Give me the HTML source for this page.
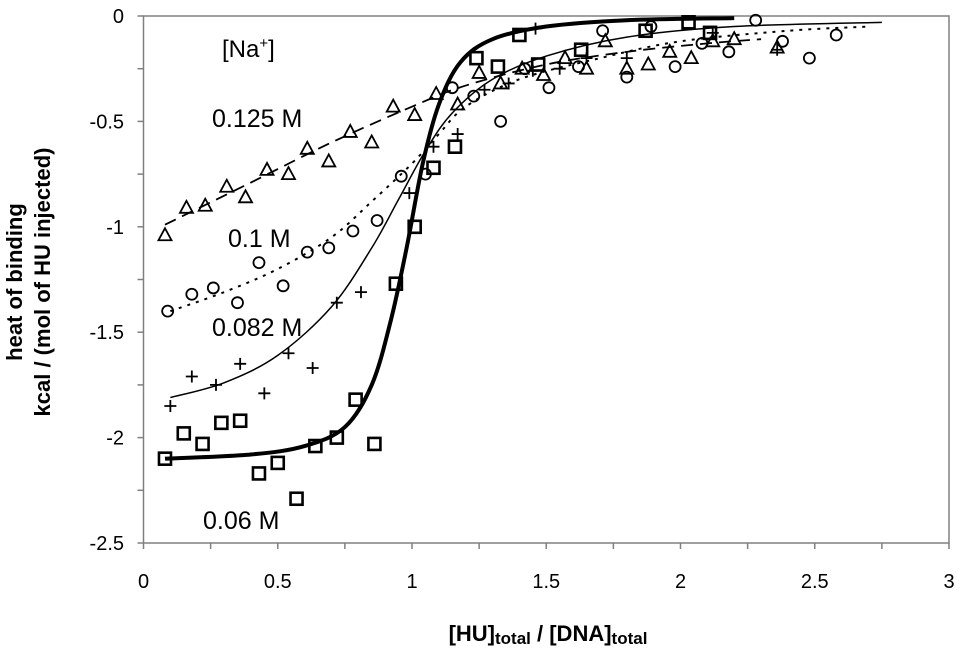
<!DOCTYPE html>
<html><head><meta charset="utf-8"><style>
body{margin:0;background:#fff;}
svg{display:block;font-family:"Liberation Sans",Arial,sans-serif;}
</style></head><body>
<svg id="chart" width="963" height="657"></svg>
<script>
const xTicks=[0,0.5,1,1.5,2,2.5,3];
const yTicks=[0,-0.5,-1,-1.5,-2,-2.5];
const sqPts=[[0.08,-2.1],[0.15,-1.98],[0.22,-2.03],[0.29,-1.93],[0.36,-1.92],[0.43,-2.17],[0.50,-2.12],[0.57,-2.29],[0.64,-2.04],[0.72,-2.0],[0.79,-1.82],[0.86,-2.03],[0.94,-1.27],[1.01,-1.0],[1.08,-0.72],[1.16,-0.62],[1.24,-0.2],[1.32,-0.24],[1.40,-0.09],[1.47,-0.23],[1.63,-0.16],[1.87,-0.07],[2.03,-0.03],[2.11,-0.08]];
const plusPts=[[0.1,-1.85],[0.18,-1.71],[0.27,-1.75],[0.36,-1.65],[0.45,-1.79],[0.54,-1.6],[0.63,-1.67],[0.72,-1.36],[0.81,-1.31],[0.99,-0.84],[1.08,-0.62],[1.17,-0.56],[1.27,-0.35],[1.36,-0.32],[1.45,-0.26],[1.46,-0.06],[1.55,-0.25],[1.65,-0.2],[1.8,-0.2],[2.12,-0.08],[2.36,-0.16]];
const circPts=[[0.09,-1.4],[0.18,-1.32],[0.26,-1.29],[0.35,-1.36],[0.43,-1.17],[0.52,-1.28],[0.61,-1.12],[0.69,-1.1],[0.78,-1.02],[0.87,-0.97],[0.96,-0.76],[1.05,-0.75],[1.15,-0.34],[1.23,-0.38],[1.33,-0.5],[1.42,-0.25],[1.51,-0.34],[1.62,-0.24],[1.71,-0.07],[1.8,-0.29],[1.89,-0.05],[1.98,-0.24],[2.08,-0.13],[2.18,-0.17],[2.28,-0.02],[2.38,-0.12],[2.48,-0.2],[2.58,-0.09]];
const triPts=[[0.08,-1.04],[0.16,-0.91],[0.23,-0.9],[0.31,-0.81],[0.38,-0.86],[0.46,-0.73],[0.54,-0.75],[0.61,-0.63],[0.69,-0.69],[0.77,-0.55],[0.85,-0.6],[0.93,-0.43],[1.01,-0.47],[1.09,-0.37],[1.17,-0.42],[1.25,-0.27],[1.33,-0.32],[1.41,-0.25],[1.49,-0.28],[1.57,-0.2],[1.65,-0.25],[1.72,-0.12],[1.8,-0.25],[1.88,-0.23],[1.96,-0.17],[2.04,-0.2],[2.12,-0.12],[2.2,-0.11],[2.36,-0.15]];
const fit006=[[0.08,-2.1],[0.4,-2.08],[0.6,-2.04],[0.75,-1.95],[0.85,-1.75],[0.92,-1.45],[0.98,-1.1],[1.04,-0.7],[1.1,-0.42],[1.18,-0.22],[1.3,-0.11],[1.5,-0.05],[1.8,-0.02],[2.2,-0.01]];
const fit0082=[[0.1,-1.81],[0.3,-1.74],[0.5,-1.61],[0.7,-1.38],[0.85,-1.1],[0.95,-0.87],[1.05,-0.64],[1.15,-0.46],[1.3,-0.3],[1.5,-0.19],[1.8,-0.1],[2.2,-0.05],[2.75,-0.03]];
const fit01=[[0.1,-1.4],[0.3,-1.31],[0.5,-1.2],[0.7,-1.05],[0.85,-0.88],[1.0,-0.7],[1.1,-0.56],[1.2,-0.43],[1.4,-0.3],[1.7,-0.2],[2.0,-0.12],[2.4,-0.07],[2.7,-0.05]];
const fit0125=[[0.08,-0.99],[0.4,-0.79],[0.7,-0.6],[1.0,-0.43],[1.2,-0.33],[1.5,-0.23],[1.8,-0.17],[2.1,-0.13],[2.3,-0.11]];

const NS='http://www.w3.org/2000/svg';
const svg=document.getElementById('chart');
const X0=143.5,X1=949,Y0=16,Y1=543;
const sx=v=>X0+v/3*(X1-X0);
const sy=v=>Y0+(-v)/2.5*(Y1-Y0);
function mk(t,a,p){const e=document.createElementNS(NS,t);for(const k in a)e.setAttribute(k,a[k]);(p||svg).appendChild(e);return e;}

const frame=mk('rect',{x:X0,y:Y0,width:X1-X0,height:Y1-Y0,fill:'none',stroke:'#808080','stroke-width':1.5});


for(let i=0;i<=12;i++){const v=i*0.25;const t=mk('line',{x1:sx(v),x2:sx(v),y1:Y1,y2:Y1+6,stroke:'#808080','stroke-width':1.5});

}
for(let i=0;i<=10;i++){const v=-i*0.25;const t=mk('line',{x1:X0-6,x2:X0,y1:sy(v),y2:sy(v),stroke:'#808080','stroke-width':1.5});

}
xTicks.forEach(v=>{const t=mk('text',{x:sx(v),y:588,'text-anchor':'middle','font-size':20});t.textContent=String(v);

});
yTicks.forEach(v=>{const t=mk('text',{x:124,y:sy(v)+7,'text-anchor':'end','font-size':20});t.textContent=String(v);

});

function curve(pts,attrs,name){
  const P=pts.map(p=>[sx(p[0]),sy(p[1])]);
  let d='M'+P[0][0]+','+P[0][1];
  for(let i=0;i<P.length-1;i++){
    const p0=P[Math.max(0,i-1)],p1=P[i],p2=P[i+1],p3=P[Math.min(P.length-1,i+2)];
    const c1=[p1[0]+(p2[0]-p0[0])/6,p1[1]+(p2[1]-p0[1])/6];
    const c2=[p2[0]-(p3[0]-p1[0])/6,p2[1]-(p3[1]-p1[1])/6];
    d+=' C'+c1+' '+c2+' '+p2;
  }
  const e=mk('path',Object.assign({d:d,fill:'none',stroke:'#000'},attrs));
  
  
}
curve(fit0125,{'stroke-width':1.8,'stroke-dasharray':'12,7'},'fit-0125M');
curve(fit01,{'stroke-width':2,'stroke-dasharray':'3,6'},'fit-01M');
curve(fit0082,{'stroke-width':1.5},'fit-0082M');
curve(fit006,{'stroke-width':4},'fit-006M');

triPts.forEach(p=>{const x=sx(p[0]),y=sy(p[1]);const e=mk('polygon',{points:`${x},${y-7} ${x-6.5},${y+5} ${x+6.5},${y+5}`,fill:'none',stroke:'#000','stroke-width':1.8});

});
circPts.forEach(p=>{const e=mk('circle',{cx:sx(p[0]),cy:sy(p[1]),r:5.5,fill:'none',stroke:'#000','stroke-width':1.8});

});
plusPts.forEach(p=>{const x=sx(p[0]),y=sy(p[1]);const e=mk('path',{d:`M${x-6},${y}H${x+6}M${x},${y-6}V${y+6}`,stroke:'#000','stroke-width':1.8});

});
sqPts.forEach(p=>{const e=mk('rect',{x:sx(p[0])-6,y:sy(p[1])-6,width:12,height:12,fill:'none',stroke:'#000','stroke-width':2.6});

});

const labels=[['[Na',222,57,'na-legend-title'],['0.125 M',212,127,'label-0125M'],['0.1 M',228,247,'label-01M'],['0.082 M',212,336,'label-0082M'],['0.06 M',203,529,'label-006M']];
labels.forEach(l=>{const t=mk('text',{x:l[1],y:l[2],'font-size':25});t.textContent=l[0];


if(l[0]==='[Na'){t.setAttribute('font-size',24);const s=mk('tspan',{dy:-9,'font-size':15},t);s.textContent='+';const s2=mk('tspan',{dy:9},t);s2.textContent=']';}});

const xt=mk('text',{x:548,y:641,'text-anchor':'middle','font-size':22,'font-weight':'bold'});


xt.innerHTML='[HU]<tspan font-size="17" dy="3">total</tspan><tspan dy="-3"> / [DNA]</tspan><tspan font-size="17" dy="3">total</tspan>';
const yt1=mk('text',{x:0,y:0,'text-anchor':'middle','font-size':22,'font-weight':'bold',transform:'translate(22,282) rotate(-90)'});
yt1.textContent='heat of binding';


const yt2=mk('text',{x:0,y:0,'text-anchor':'middle','font-size':22,'font-weight':'bold',transform:'translate(50,282) rotate(-90)'});
yt2.textContent='kcal / (mol of HU injected)';


</script>
</body></html>
